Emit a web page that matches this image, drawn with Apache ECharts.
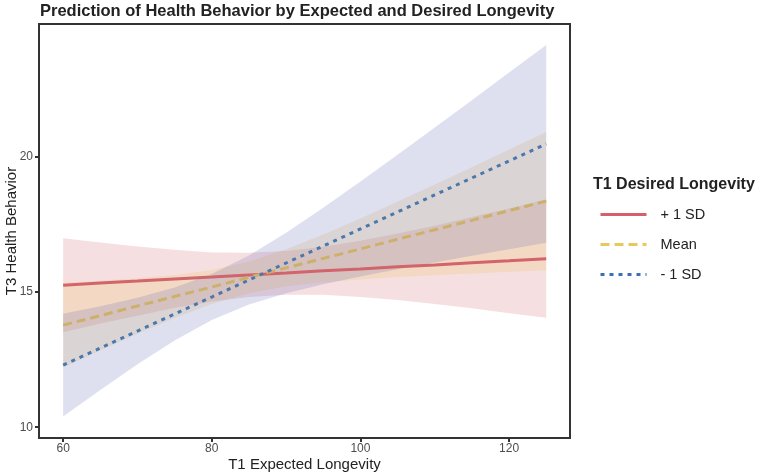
<!DOCTYPE html>
<html>
<head>
<meta charset="utf-8">
<script src="https://cdn.jsdelivr.net/npm/echarts@6/dist/echarts.min.js"></script>
<style>
  html, body { margin: 0; padding: 0; background: #fff; }
  #chart { width: 765px; height: 473px; }
</style>
</head>
<body>
<div id="chart"></div>
<script>
// T1 expected longevity (x)
const xValues = [60, 65, 70, 75, 80, 85, 90, 95, 100, 105, 110, 115, 120, 125]
const xTicks = [60, 80, 100, 120]
const yTicks = [10, 15, 20]

// fitted lines
const plusSD = [15.26, 15.34, 15.41, 15.49, 15.56, 15.64, 15.71, 15.79, 15.86, 15.94, 16.01, 16.09, 16.16, 16.24]
const meanSD = [13.78, 14.13, 14.49, 14.84, 15.19, 15.55, 15.90, 16.25, 16.60, 16.96, 17.31, 17.66, 18.02, 18.37]
const minusSD = [12.30, 12.93, 13.56, 14.19, 14.82, 15.45, 16.08, 16.71, 17.34, 17.97, 18.60, 19.23, 19.86, 20.49]

// confidence bands
const plusLower = [13.52, 13.84, 14.13, 14.42, 14.65, 14.82, 14.90, 14.90, 14.82, 14.71, 14.56, 14.40, 14.22, 14.05]
const plusUpper = [17.00, 16.84, 16.69, 16.57, 16.47, 16.46, 16.52, 16.68, 16.90, 17.17, 17.46, 17.78, 18.10, 18.43]
const meanLower = [12.21, 12.84, 13.46, 14.04, 14.56, 14.97, 15.22, 15.37, 15.47, 15.56, 15.63, 15.69, 15.76, 15.81]
const meanUpper = [15.35, 15.42, 15.52, 15.64, 15.82, 16.13, 16.59, 17.14, 17.73, 18.36, 18.99, 19.63, 20.28, 20.93]
const minusLower = [10.40, 11.38, 12.33, 13.21, 13.97, 14.54, 14.96, 15.29, 15.58, 15.85, 16.10, 16.35, 16.59, 16.83]
const minusUpper = [14.20, 14.48, 14.79, 15.17, 15.67, 16.36, 17.20, 18.13, 19.10, 20.09, 21.10, 22.11, 23.13, 24.15]

const font = 'Liberation Sans, Arial, sans-serif'

function pairs (ys) {
  return xValues.map((x, i) => [x, ys[i]])
}

// ribbon drawn as polygon through the axis scales
function band (name, lower, upper, color) {
  return {
    name: name,
    type: 'custom',
    data: [0],
    silent: true,
    z: 1,
    renderItem: function (params, api) {
      const pts = []
      xValues.forEach((x, i) => pts.push(api.coord([x, upper[i]])))
      for (let i = xValues.length - 1; i >= 0; i--) pts.push(api.coord([xValues[i], lower[i]]))
      return {
        type: 'polygon',
        shape: { points: pts },
        style: { fill: color, opacity: 0.2 }
      }
    }
  }
}

function line (name, ys, color, dash) {
  return {
    name: name,
    type: 'line',
    data: pairs(ys),
    symbol: 'none',
    silent: true,
    z: 3,
    lineStyle: { color: color, width: 3, type: dash },
    itemStyle: { color: color }
  }
}

function legendItem (name, color, dash) {
  return { name: name, lineStyle: { color: color, width: 3, type: dash }, itemStyle: { opacity: 0 } }
}

const myChart = echarts.init(document.getElementById('chart'))
const option = {
  animation: false,
  title: [
    {
      text: 'Prediction of Health Behavior by Expected and Desired Longevity',
      left: 35,
      top: -2,
      textStyle: { fontFamily: font, fontSize: 16.5, fontWeight: 'bold', color: '#222' }
    },
    {
      text: 'T1 Desired Longevity',
      left: 588,
      top: 172,
      textStyle: { fontFamily: font, fontSize: 16, fontWeight: 'bold', color: '#222' }
    }
  ],
  legend: {
    data: [
      legendItem('+ 1 SD', '#D4606C', 'solid'),
      legendItem('Mean', '#E6CB5C', [9, 5]),
      legendItem('- 1 SD', '#3E6FAF', [4, 5])
    ],
    orient: 'vertical',
    left: 594,
    top: 202,
    itemWidth: 46,
    itemHeight: 14,
    itemGap: 15,
    itemStyle: { opacity: 0 },
    textStyle: { fontFamily: font, fontSize: 14.5, color: '#222', padding: [0, 0, 0, 9] }
  },
  grid: {
    left: 39,
    right: 195,
    top: 24,
    bottom: 35,
    outerBoundsMode: 'none',
    containLabel: false,
    show: true,
    borderColor: '#333',
    borderWidth: 2
  },
  xAxis: {
    type: 'value',
    min: 56.75,
    max: 128.2,
    name: 'T1 Expected Longevity',
    nameLocation: 'middle',
    nameGap: 19,
    nameMoveOverlap: false,
    nameTextStyle: { fontFamily: font, fontSize: 15, color: '#222' },
    splitLine: { show: false },
    axisLine: { show: false },
    axisTick: { show: true, length: 4, customValues: xTicks, lineStyle: { color: '#333', width: 2 } },
    axisLabel: { customValues: xTicks, margin: 5, fontFamily: font, fontSize: 12, color: '#4d4d4d' }
  },
  yAxis: {
    type: 'value',
    min: 9.6,
    max: 24.93,
    name: 'T3 Health Behavior',
    nameLocation: 'middle',
    nameGap: 20,
    nameMoveOverlap: false,
    nameTextStyle: { fontFamily: font, fontSize: 15, color: '#222' },
    splitLine: { show: false },
    axisLine: { show: false },
    axisTick: { show: true, length: 4, customValues: yTicks, lineStyle: { color: '#333', width: 2 } },
    axisLabel: { customValues: yTicks, margin: 6, fontFamily: font, fontSize: 12, color: '#4d4d4d' }
  },
  series: [
    band('plusBand', plusLower, plusUpper, '#D0606B'),
    band('meanBand', meanLower, meanUpper, '#E8B84A'),
    band('minusBand', minusLower, minusUpper, '#5A64B4'),
    line('+ 1 SD', plusSD, '#D2646C', 'solid'),
    line('Mean', meanSD, '#CDB06A', [9, 5]),
    line('- 1 SD', minusSD, '#4A78AC', [4, 5])
  ]
}
myChart.setOption(option)
</script>
</body>
</html>
